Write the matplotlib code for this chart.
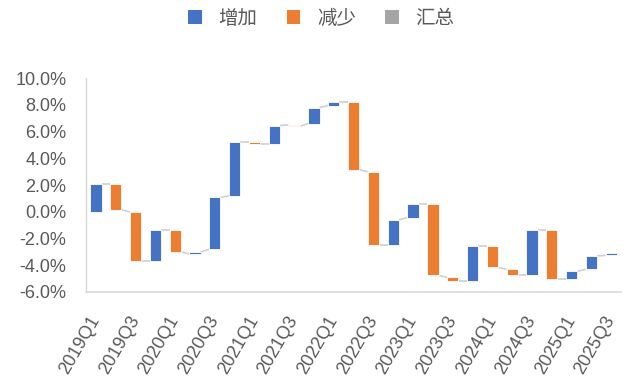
import matplotlib
matplotlib.use("Agg")
import matplotlib.pyplot as plt
from matplotlib.patches import Patch

quarters = ["2019Q1", "2019Q2", "2019Q3", "2019Q4", "2020Q1", "2020Q2", "2020Q3", "2020Q4",
            "2021Q1", "2021Q2", "2021Q3", "2021Q4", "2022Q1", "2022Q2", "2022Q3", "2022Q4",
            "2023Q1", "2023Q2", "2023Q3", "2023Q4", "2024Q1", "2024Q2", "2024Q3", "2024Q4",
            "2025Q1", "2025Q2", "2025Q3"]
bar_start = [0.0, 2.1, 0.0, -3.7, -1.35, -3.15, -2.8, 1.2, 5.2, 5.1, 6.5, 6.6, 7.95, 8.25,
             3.0, -2.5, -0.43, 0.6, -4.9, -5.2, -2.53, -4.3, -4.76, -1.35, -5.06, -4.3, -3.26]
bar_end = [2.1, 0.15, -3.7, -1.35, -3.0, -3.0, 1.07, 5.2, 5.1, 6.45, 6.4, 7.8, 8.25, 3.15,
           -2.5, -0.6, 0.6, -4.76, -5.2, -2.53, -4.16, -4.76, -1.35, -5.06, -4.46, -3.3, -3.1]
legend_labels = ["增加", "减少", "汇总"]
yticks = [-6, -4, -2, 0, 2, 4, 6, 8, 10]

BLUE = "#4472C4"
ORANGE = "#ED7D31"
GRAY = "#A5A5A5"
TXT = "#595959"

fig = plt.figure(figsize=(6.3, 3.83), dpi=100)
ax = fig.add_axes([0.1365, 0.2376, 0.8495, 0.5584])

w = 0.57
x = list(range(len(quarters)))
for i in x:
    s, e = bar_start[i], bar_end[i]
    c = BLUE if e > s else ORANGE
    ax.bar(i, e - s, bottom=s, width=w, color=c, edgecolor="white", linewidth=0.6, zorder=3)
for i in x[:-1]:
    ax.plot([i + w / 2, i + 1 - w / 2], [bar_end[i], bar_start[i + 1]],
            color="#D0D0D0", linewidth=1.2, zorder=2, solid_capstyle="butt")

for sp in ["top", "right"]:
    ax.spines[sp].set_visible(False)
ax.spines["left"].set_color("#D9D9D9")
ax.spines["bottom"].set_color("#D9D9D9")
ax.spines["bottom"].set_linewidth(1.2)
ax.spines["left"].set_linewidth(1.0)

ax.set_xlim(-0.5, len(quarters) - 0.5)
ax.set_ylim(-6, 10)
ax.set_yticks(yticks)
ax.set_yticklabels([f"{v:.1f}%" for v in yticks], fontsize=13, color=TXT,
                   family=["Liberation Sans", "DejaVu Sans"])
ax.set_xticks(x[::2])
ax.set_xticklabels(quarters[::2], rotation=60, ha="right", va="center", rotation_mode="anchor",
                   fontsize=13, color=TXT, family=["Liberation Sans", "DejaVu Sans"])
ax.tick_params(axis="y", length=0, pad=14)
ax.tick_params(axis="x", length=0, pad=18)

handles = [Patch(facecolor=BLUE), Patch(facecolor=ORANGE), Patch(facecolor=GRAY)]
leg = fig.legend(handles, legend_labels, loc="center", bbox_to_anchor=(0.51, 0.952), ncol=3,
                 frameon=False, prop={"family": ["Noto Sans CJK SC", "DejaVu Sans"], "size": 14},
                 handlelength=0.7, handleheight=0.7, handletextpad=0.85, columnspacing=1.5)
for t in leg.get_texts():
    t.set_color(TXT)

fig.savefig("out.png", dpi=100)
